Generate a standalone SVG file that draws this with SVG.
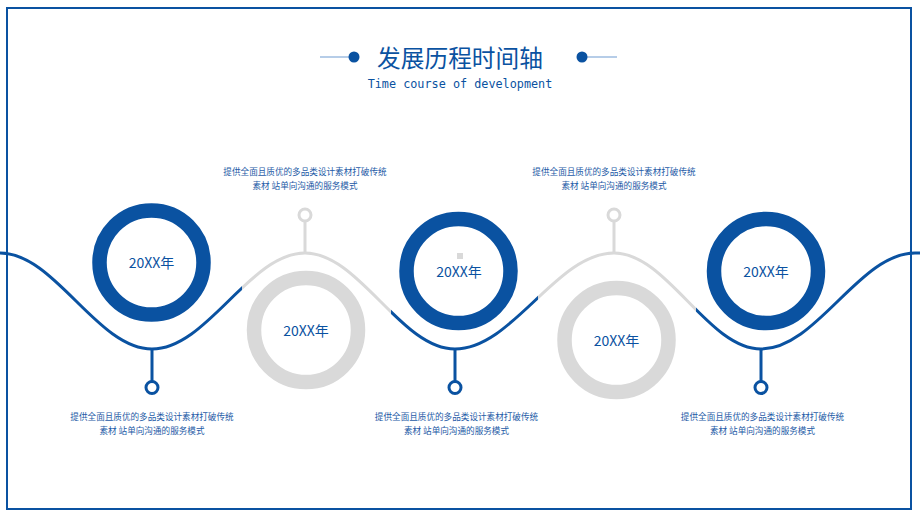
<svg xmlns="http://www.w3.org/2000/svg" xmlns:xlink="http://www.w3.org/1999/xlink" width="920" height="518" viewBox="0 0 920 518">
<style>
.blue{fill:none;stroke:#0a52a1}
.gray{fill:none;stroke:#d9d9d9}
.ring{stroke-width:14.5;fill:none}
.yr{font-family:"Noto Sans CJK SC","Noto Sans",sans-serif;font-size:14px;fill:#0a52a1;text-anchor:middle}
.desc{font-family:"Noto Sans CJK SC","Noto Sans",sans-serif;font-size:8.6px;fill:#1d5aa6;text-anchor:middle}
.pin{stroke-width:3;fill:#fff}
</style>
<defs>
<path id="wave" d="M-2,253 L0,253 C55,253 97,349 152,349 C207.4,349 249.6,253 305,253 C359.3,253 400.7,349 455,349 C512.6,349 556.4,253 614,253 C667.2,253 707.8,349 761,349 C816.7,349 859.3,253 915,253 L922,253"/>
<clipPath id="cBlue"><rect x="-10" y="0" width="252" height="518"/><rect x="391" y="0" width="147" height="518"/><rect x="696" y="0" width="240" height="518"/></clipPath>
<clipPath id="cGray"><rect x="242" y="0" width="149" height="518"/><rect x="538" y="0" width="158" height="518"/></clipPath>
</defs>
<rect x="7" y="8" width="904" height="501" fill="#fff" stroke="#0a52a1" stroke-width="2"/>
<g id="title">
<line x1="320" y1="57" x2="354" y2="57" stroke="#6f9bd2" stroke-width="1.2"/>
<circle cx="354" cy="57" r="5.5" fill="#0a52a1"/>
<line x1="582" y1="57" x2="617" y2="57" stroke="#6f9bd2" stroke-width="1.2"/>
<circle cx="582" cy="57" r="5.5" fill="#0a52a1"/>
<text x="460" y="67" font-family="'Noto Sans CJK SC','Noto Sans',sans-serif" font-size="23.7" fill="#0a52a1" text-anchor="middle">发展历程时间轴</text>
<text x="460" y="88" font-family="'DejaVu Sans Mono',monospace" font-size="11.8" fill="#0a52a1" text-anchor="middle">Time course of development</text>
</g>
<g id="connectors">
<use xlink:href="#wave" class="blue" stroke-width="3" clip-path="url(#cBlue)"/>
<use xlink:href="#wave" class="gray" stroke-width="3" clip-path="url(#cGray)"/>
<line class="blue" stroke-width="3" x1="152" y1="349" x2="152" y2="381"/>
<line class="blue" stroke-width="3" x1="455" y1="349" x2="455" y2="381"/>
<line class="blue" stroke-width="3" x1="761" y1="349" x2="761" y2="381"/>
<line class="gray" stroke-width="3" x1="305" y1="221" x2="305" y2="253"/>
<line class="gray" stroke-width="3" x1="614" y1="221" x2="614" y2="253"/>
</g>
<g id="node1">
<circle class="blue ring" cx="151.5" cy="262.5" r="52"/>
<text class="yr" x="151.5" y="267.5">20XX年</text>
<circle class="blue pin" cx="152" cy="387.5" r="6"/>
<text class="desc" x="152" y="420">提供全面且质优的多品类设计素材打破传统</text>
<text class="desc" x="152" y="434">素材 站单向沟通的服务模式</text>
</g>
<g id="node2">
<circle class="gray ring" cx="306" cy="330" r="52"/>
<text class="yr" x="306" y="335.5">20XX年</text>
<circle class="gray pin" cx="305" cy="215" r="6"/>
<text class="desc" x="305" y="175">提供全面且质优的多品类设计素材打破传统</text>
<text class="desc" x="305" y="189">素材 站单向沟通的服务模式</text>
</g>
<g id="node3">
<circle class="blue ring" cx="458.5" cy="271" r="52"/>
<rect x="457" y="253" width="6" height="6" fill="#d9d9d9"/>
<text class="yr" x="459" y="276.5">20XX年</text>
<circle class="blue pin" cx="455" cy="387.5" r="6"/>
<text class="desc" x="456.5" y="420">提供全面且质优的多品类设计素材打破传统</text>
<text class="desc" x="456.5" y="434">素材 站单向沟通的服务模式</text>
</g>
<g id="node4">
<circle class="gray ring" cx="616.5" cy="340" r="52"/>
<text class="yr" x="616.5" y="345.5">20XX年</text>
<circle class="gray pin" cx="614" cy="215" r="6"/>
<text class="desc" x="614" y="175">提供全面且质优的多品类设计素材打破传统</text>
<text class="desc" x="614" y="189">素材 站单向沟通的服务模式</text>
</g>
<g id="node5">
<circle class="blue ring" cx="766" cy="271" r="52"/>
<text class="yr" x="766" y="276.5">20XX年</text>
<circle class="blue pin" cx="761" cy="387.5" r="6"/>
<text class="desc" x="762.5" y="420">提供全面且质优的多品类设计素材打破传统</text>
<text class="desc" x="762.5" y="434">素材 站单向沟通的服务模式</text>
</g>
</svg>
